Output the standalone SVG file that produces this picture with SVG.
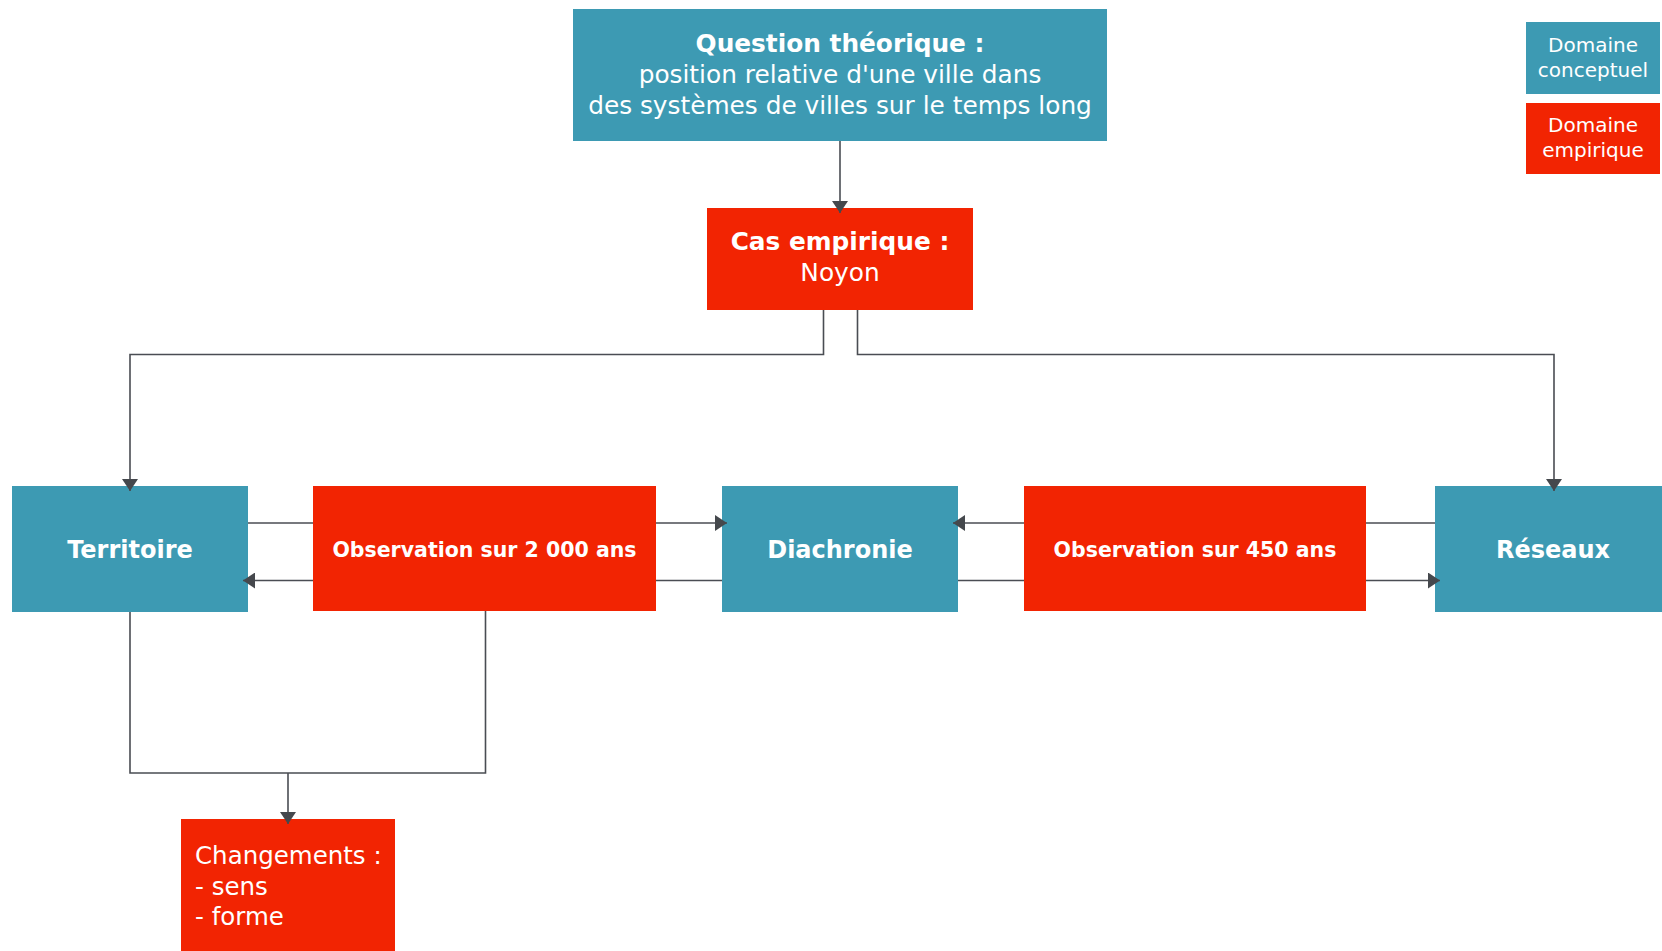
<svg xmlns="http://www.w3.org/2000/svg" width="1662" height="951" viewBox="0 0 1662 951">
  <style>
    .concept { fill: #3d9ab3; }
    .empiric { fill: #f22402; }
    text { font-family: "DejaVu Sans", "Noto Sans", sans-serif; fill: #ffffff; }
    .c { text-anchor: middle; }
    .b { font-weight: bold; }
    .big { font-size: 24.8px; }
    .list { font-size: 24.5px; }
    .row { font-size: 24px; font-weight: bold; }
    .obs { font-size: 20.5px; font-weight: bold; }
    .leg { font-size: 20px; }
    .edge { fill: none; stroke: #4a4d53; stroke-width: 1.6; }
  </style>
  <defs>
    <marker id="arrow" viewBox="0 0 12 16" refX="12" refY="8" markerWidth="12" markerHeight="16" markerUnits="userSpaceOnUse" orient="auto">
      <path d="M0,0 L12,8 L0,16 z" fill="#45484d"/>
    </marker>
  </defs>

  <rect width="1662" height="951" fill="#ffffff"/>

  <!-- Nodes -->
  <g id="question">
    <rect class="concept" x="573" y="9" width="534" height="132"/>
    <text class="c b big" x="840" y="52">Question théorique :</text>
    <text class="c big" x="840" y="82.5">position relative d'une ville dans</text>
    <text class="c big" x="840" y="113.5">des systèmes de villes sur le temps long</text>
  </g>

  <g id="cas">
    <rect class="empiric" x="707" y="208" width="266" height="102"/>
    <text class="c b big" x="840" y="250">Cas empirique :</text>
    <text class="c big" x="840" y="281">Noyon</text>
  </g>

  <g id="territoire">
    <rect class="concept" x="12" y="486" width="236" height="126"/>
    <text class="c row" x="130" y="558">Territoire</text>
  </g>

  <g id="obs2000">
    <rect class="empiric" x="313" y="486" width="343" height="125"/>
    <text class="c obs" x="484.5" y="557">Observation sur 2 000 ans</text>
  </g>

  <g id="diachronie">
    <rect class="concept" x="722" y="486" width="236" height="126"/>
    <text class="c row" x="840" y="558">Diachronie</text>
  </g>

  <g id="obs450">
    <rect class="empiric" x="1024" y="486" width="342" height="125"/>
    <text class="c obs" x="1195" y="557">Observation sur 450 ans</text>
  </g>

  <g id="reseaux">
    <rect class="concept" x="1435" y="486" width="236" height="126"/>
    <text class="c row" x="1553" y="558">Réseaux</text>
  </g>

  <g id="changements">
    <rect class="empiric" x="181" y="819" width="214" height="140"/>
    <text class="list" x="195" y="864">Changements :</text>
    <text class="list" x="195" y="895">- sens</text>
    <text class="list" x="195" y="925">- forme</text>
  </g>

  <!-- Legend -->
  <g id="legend-conceptuel">
    <rect class="concept" x="1526" y="22" width="134" height="72"/>
    <text class="c leg" x="1593" y="52">Domaine</text>
    <text class="c leg" x="1593" y="77">conceptuel</text>
  </g>
  <g id="legend-empirique">
    <rect class="empiric" x="1526" y="103" width="134" height="71"/>
    <text class="c leg" x="1593" y="132">Domaine</text>
    <text class="c leg" x="1593" y="157">empirique</text>
  </g>

  <!-- Connectors -->
  <g id="connectors" class="edge">
    <path d="M840,141 V213" marker-end="url(#arrow)"/>
    <path d="M823.5,310 V354.5 H130 V491" marker-end="url(#arrow)"/>
    <path d="M857.5,310 V354.5 H1554 V491" marker-end="url(#arrow)"/>

    <!-- Territoire to Diachronie, through the 2 000 years observation -->
    <path d="M248,523 H313"/>
    <path d="M656,523 H727" marker-end="url(#arrow)"/>
    <!-- Diachronie to Territoire -->
    <path d="M722,580.5 H656"/>
    <path d="M313,580.5 H243" marker-end="url(#arrow)"/>

    <!-- Réseaux to Diachronie, through the 450 years observation -->
    <path d="M1435,523 H1366"/>
    <path d="M1024,523 H953" marker-end="url(#arrow)"/>
    <!-- Diachronie to Réseaux -->
    <path d="M958,580.5 H1024"/>
    <path d="M1366,580.5 H1440" marker-end="url(#arrow)"/>

    <!-- Territoire and observation merge towards Changements -->
    <path d="M130,612 V773 H485.5 V611"/>
    <path d="M288,773 V824" marker-end="url(#arrow)"/>
  </g>
</svg>
